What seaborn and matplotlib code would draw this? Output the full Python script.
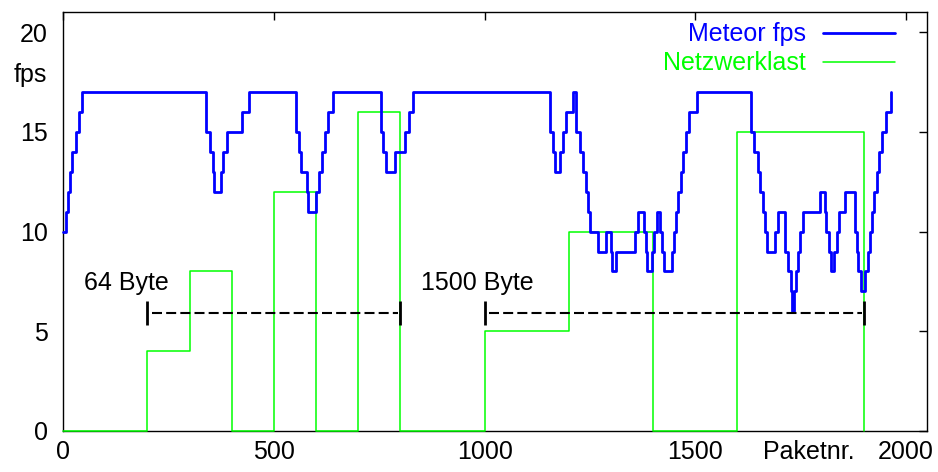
import numpy as np
import pandas as pd
import matplotlib
matplotlib.use('Agg')
import matplotlib.pyplot as plt
import seaborn as sns

# Meteor fps: Paketnummer, ab der ein neuer fps-Wert gilt
fps_x = [0, 6, 11, 16, 22, 30, 37, 45,
         340, 349, 355, 358, 374, 380, 388, 424, 442,
         552, 559, 564, 578, 581, 599, 606, 614, 621, 629, 640,
         754, 760, 767, 787, 812, 820, 831,
         1155, 1163, 1168, 1179, 1186, 1193, 1209, 1217, 1226, 1234, 1240,
         1246, 1250, 1268, 1289, 1300, 1303, 1311, 1358, 1364, 1378, 1383,
         1386, 1398, 1402, 1409, 1417, 1422, 1426, 1444, 1450, 1455, 1459,
         1465, 1471, 1477, 1485, 1503,
         1633, 1640, 1648, 1654, 1660, 1666, 1671, 1690, 1697, 1712, 1714,
         1721, 1726, 1729, 1734, 1739, 1743, 1749, 1755, 1796, 1809, 1811,
         1817, 1822, 1830, 1836, 1841, 1856, 1878, 1879, 1885, 1887, 1894,
         1903, 1909, 1915, 1920, 1925, 1931, 1936, 1944, 1952, 1965]
fps_val = [10, 11, 12, 13, 14, 15, 16, 17,
           15, 14, 13, 12, 13, 14, 15, 16, 17,
           15, 14, 13, 12, 11, 12, 13, 14, 15, 16, 17,
           15, 14, 13, 14, 15, 16, 17,
           15, 14, 13, 14, 15, 16, 17, 15, 14, 13, 12,
           11, 10, 9, 10, 9, 8, 9, 10, 11, 10, 9,
           8, 9, 10, 11, 10, 9, 8, 9, 10, 11, 12,
           13, 14, 15, 16, 17,
           15, 14, 13, 12, 11, 10, 9, 10, 11, 10, 9,
           8, 7, 6, 7, 8, 9, 10, 11, 12, 11, 10,
           9, 8, 9, 10, 11, 12, 11, 10, 9, 8, 7,
           8, 9, 10, 11, 12, 13, 14, 15, 16, 17]

# Netzwerklast (Treppenfunktion)
last_x = [0, 200, 300, 400, 500, 600, 700, 800, 1000, 1200, 1400, 1600, 1900]
last_val = [0, 4, 8, 0, 12, 0, 16, 0, 5, 10, 0, 15, 0]

# Paketgroessen-Bereiche
bereich_start = [200, 1000]
bereich_ende = [800, 1900]
bereich_text = ['64 Byte', '1500 Byte']
text_x = [50, 850]

x_ticks = [0, 500, 1000, 1500, 2000]
y_ticks = [0, 5, 10, 15, 20]

sns.set_style('white')
plt.rcParams['font.family'] = ['Liberation Sans', 'DejaVu Sans']
plt.rcParams['text.color'] = 'black'
fs = 18

fig = plt.figure(figsize=(9.38, 4.72), dpi=100)
ax = fig.add_axes([0.0674, 0.0869, 0.9209, 0.8871])

sns.lineplot(x=last_x, y=last_val, drawstyle='steps-post', color='#00ff00',
             lw=1.1, ax=ax, label='Netzwerklast', zorder=3, clip_on=False)
sns.lineplot(x=fps_x, y=fps_val, drawstyle='steps-post', color='#0000ff',
             lw=2, ax=ax, label='Meteor fps', zorder=4, clip_on=False)

# Bereichspfeile mit Endstrichen
for s, e, t, tx in zip(bereich_start, bereich_ende, bereich_text, text_x):
    ax.plot([s + 10, e - 5], [5.9, 5.9], color='black', lw=1.5,
            dashes=(4.8, 2.0), zorder=5)
    ax.vlines([s, e], 5.3, 6.5, color='black', lw=2, zorder=5)
    ax.text(tx, 7.4, t, ha='left', va='center', fontsize=fs, color='black')

ax.set_xlim(0, 2050)
ax.set_ylim(0, 21)
ax.set_xticks(x_ticks)
ax.set_yticks(y_ticks)
ax.set_xlabel('')
ax.set_ylabel('')
ax.tick_params(direction='in', top=True, right=True, length=5.5, width=1,
               labelsize=fs, colors='black')
ax.tick_params(axis='x', pad=6.5)
ax.tick_params(axis='y', pad=11)
for sp in ax.spines.values():
    sp.set_linewidth(1)
    sp.set_color('black')

ax.text(-78, 17.86, 'fps', ha='center', va='center', fontsize=fs,
        color='black', clip_on=False)
ax.annotate('Paketnr.', xy=(1770, 0), xytext=(0, -6.5), textcoords='offset points',
            ha='center', va='top', fontsize=fs, color='black',
            annotation_clip=False)

h, l = ax.get_legend_handles_labels()
ax.legend(h[::-1], l[::-1], loc='upper right', bbox_to_anchor=(0.963, 0.976),
          frameon=False, markerfirst=False, labelcolor='linecolor',
          handlelength=2.9, handletextpad=0.68, labelspacing=0.2,
          borderpad=0, borderaxespad=0, fontsize=fs)

fig.savefig('out.png', dpi=100)
